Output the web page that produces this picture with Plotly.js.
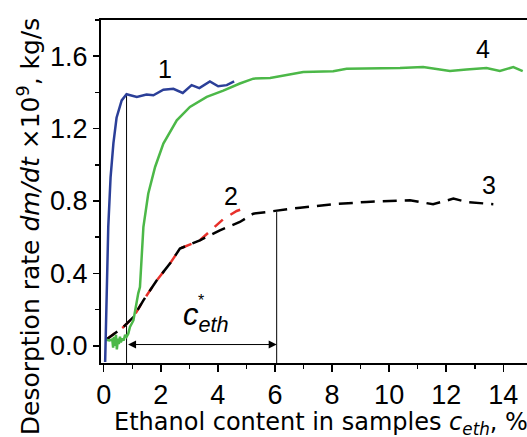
<!DOCTYPE html>
<html><head><meta charset="utf-8">
<script src="https://cdn.plot.ly/plotly-3.0.1.min.js"></script>
<style>html,body{margin:0;padding:0;background:#fff;}#chart{width:527px;height:437px;}</style>
</head><body><div id="chart"></div>
<script>
// Curve 1 (blue)
const c1X = [0.05, 0.08, 0.10, 0.16, 0.24, 0.34, 0.45, 0.63, 0.80, 1.16, 1.50, 1.74, 2.09, 2.44, 2.77, 3.08, 3.35, 3.72, 4.01, 4.31, 4.57];
const c1Y = [-0.09, 0.10, 0.29, 0.66, 0.93, 1.12, 1.26, 1.356, 1.39, 1.375, 1.388, 1.384, 1.415, 1.42, 1.397, 1.44, 1.424, 1.461, 1.434, 1.44, 1.461];
// Curve 4 (green)
const c4X = [0.05, 0.20, 0.30, 0.33, 0.36, 0.40, 0.43, 0.46, 0.50, 0.53, 0.57, 0.60, 0.65, 0.70, 0.75, 0.80, 0.86, 0.92, 1.04, 1.10, 1.21, 1.27, 1.33, 1.39, 1.56, 1.80, 2.09, 2.56, 3.02, 3.61, 4.19, 4.77, 5.24, 5.83, 6.99, 8.04, 8.51, 9.56, 10.38, 11.19, 12.13, 12.71, 13.41, 13.88, 14.35, 14.68];
const c4Y = [0.035, 0.03, 0.035, -0.01, 0.05, 0.0, 0.06, -0.02, 0.04, 0.01, 0.05, 0.02, 0.04, 0.03, 0.06, 0.05, 0.067, 0.104, 0.14, 0.196, 0.29, 0.325, 0.528, 0.656, 0.84, 0.988, 1.117, 1.246, 1.32, 1.375, 1.41, 1.449, 1.476, 1.48, 1.513, 1.517, 1.531, 1.531, 1.535, 1.54, 1.518, 1.526, 1.535, 1.518, 1.54, 1.518];
// Curve 2 (red dashed)
const c2X = [0.08, 0.69, 1.04, 1.39, 1.86, 2.32, 2.67, 3.37, 4.19, 4.66, 4.85];
const c2Y = [0.034, 0.104, 0.159, 0.251, 0.362, 0.454, 0.537, 0.583, 0.70, 0.745, 0.755];
// Curve 3 (black dashed)
const c3X = [0.08, 0.69, 1.04, 1.39, 1.86, 2.32, 2.67, 3.37, 4.07, 4.77, 5.24, 6.18, 6.88, 8.04, 9.21, 10.73, 11.54, 12.25, 12.71, 13.65];
const c3Y = [0.034, 0.104, 0.159, 0.251, 0.362, 0.454, 0.537, 0.583, 0.638, 0.684, 0.73, 0.749, 0.763, 0.782, 0.795, 0.804, 0.782, 0.813, 0.795, 0.782];
// Guide lines
const guide1X = [0.8, 0.8];
const guide1Y = [-0.095, 1.39];
const guide2X = [6.06, 6.06];
const guide2Y = [-0.095, 0.739];
const arrowY = 0.007;
// Labels
const curveLabels = ["1", "2", "3", "4"];
const labelX = [2.15, 4.46, 13.5, 13.3];
const labelY = [1.53, 0.83, 0.89, 1.64];
const xTicks = [0, 2, 4, 6, 8, 10, 12, 14];
const yTicks = [0.0, 0.4, 0.8, 1.2, 1.6];

const FONT = "Liberation Sans, Arial, Helvetica, sans-serif";
const TFONT = "DejaVu Sans, Liberation Sans, sans-serif";

const traces = [
  {x: guide1X, y: guide1Y, mode: 'lines', line: {color: '#000', width: 1}, hoverinfo: 'skip'},
  {x: guide2X, y: guide2Y, mode: 'lines', line: {color: '#000', width: 1}, hoverinfo: 'skip'},
  {x: c2X, y: c2Y, mode: 'lines', line: {color: '#e8302a', width: 2.5, dash: '11px,9px'}},
  {x: c3X, y: c3Y, mode: 'lines', line: {color: '#000', width: 2.5, dash: '14px,8px'}},
  {x: c4X, y: c4Y, mode: 'lines', line: {color: '#4cb848', width: 2.5}},
  {x: c1X, y: c1Y, mode: 'lines', line: {color: '#2b3f98', width: 2.5}}
];

const annotations = curveLabels.map((t, i) => ({
  x: labelX[i], y: labelY[i], xref: 'x', yref: 'y', text: t, showarrow: false,
  font: {family: FONT, size: 25, color: '#000'}
}));
annotations.push({
  x: guide2X[0], y: arrowY, ax: guide1X[0], ay: arrowY, xref: 'x', yref: 'y', axref: 'x', ayref: 'y',
  text: '', showarrow: true, arrowhead: 2, arrowside: 'end+start', arrowsize: 1.6, arrowwidth: 1, arrowcolor: '#000', standoff: 0, startstandoff: 0
});
annotations.push({
  x: 3.59, y: 0.04, xref: 'x', yref: 'y', text: '<i>c</i><sub><i>eth</i></sub>', showarrow: false,
  yanchor: 'bottom', font: {family: FONT, size: 31, color: '#000'}
});
annotations.push({
  x: 3.41, y: 0.25, xref: 'x', yref: 'y', text: '*', showarrow: false,
  font: {family: FONT, size: 16, color: '#000'}
});
annotations.push({
  x: 0.516, y: -0.175, xref: 'paper', yref: 'paper', text: 'Ethanol content in samples <i>c</i><sub><i>eth</i></sub>, %',
  showarrow: false, xanchor: 'center', yanchor: 'middle', font: {family: TFONT, size: 24, color: '#000'}
});
annotations.push({
  x: -0.168, y: 0.40, xref: 'paper', yref: 'paper', text: 'Desorption rate <i>dm/dt</i> ×10<sup>9</sup>, kg/s',
  textangle: -90, showarrow: false, xanchor: 'center', yanchor: 'middle', font: {family: TFONT, size: 25, color: '#000'}
});

const layout = {
  width: 527, height: 437,
  margin: {l: 101, r: 0, t: 20, b: 74, pad: 0},
  paper_bgcolor: '#fff', plot_bgcolor: '#fff',
  showlegend: false,
  font: {family: FONT, color: '#000'},
  xaxis: {
    range: [-0.095, 14.83], tickvals: xTicks, ticks: 'outside', ticklen: 7, tickwidth: 1.5, tickcolor: '#000',
    minor: {dtick: 1, ticks: 'outside', ticklen: 4, tickwidth: 1.5, tickcolor: '#000'},
    showline: true, linecolor: '#000', linewidth: 2, mirror: true, showgrid: false, zeroline: false,
    tickfont: {family: FONT, size: 27, color: '#000'}
  },
  yaxis: {
    range: [-0.095, 1.8], tickvals: yTicks, tickformat: '.1f', ticks: 'outside', ticklen: 6, tickwidth: 1.5, tickcolor: '#000',
    minor: {dtick: 0.2, ticks: 'outside', ticklen: 4, tickwidth: 1.5, tickcolor: '#000'},
    showline: true, linecolor: '#000', linewidth: 2, mirror: false, showgrid: false, zeroline: false,
    tickfont: {family: FONT, size: 27, color: '#000'}
  },
  annotations: annotations
};

Plotly.newPlot('chart', traces, layout, {staticPlot: true, displayModeBar: false});
</script></body></html>
